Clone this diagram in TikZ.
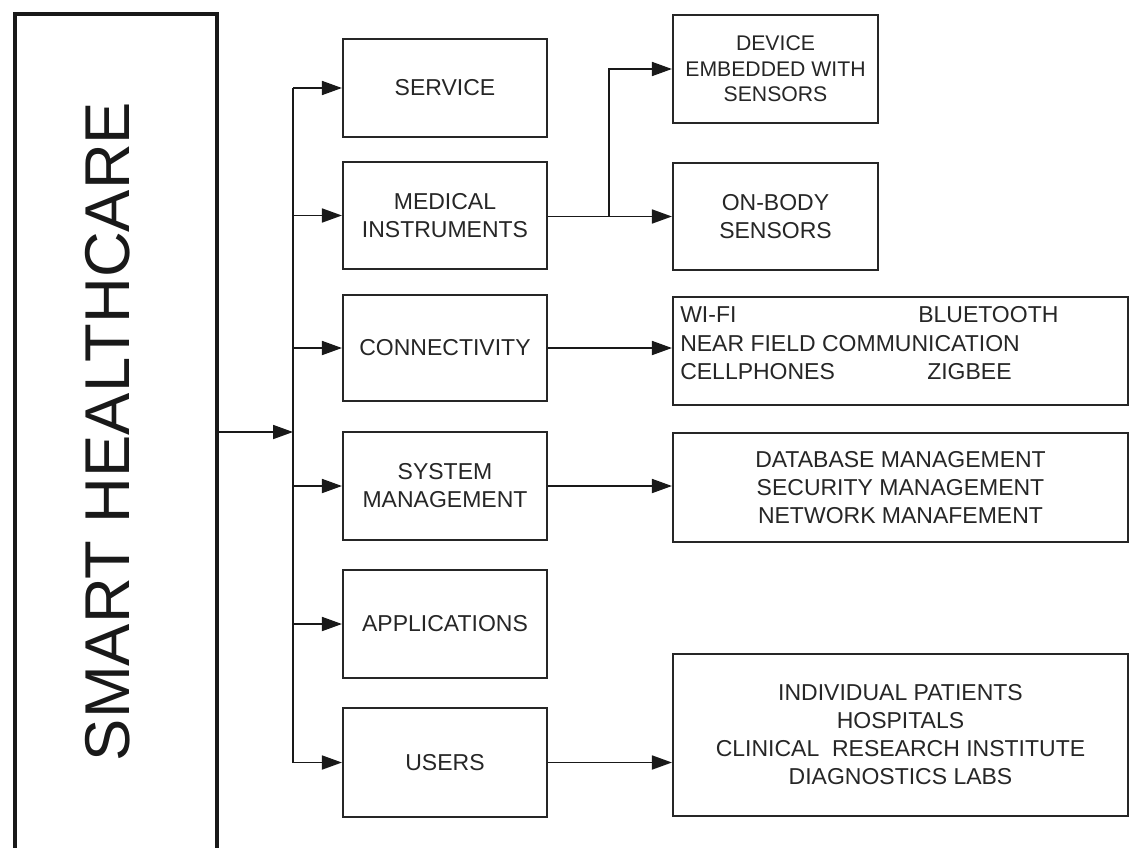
\documentclass[tikz,border=0pt]{standalone}
\usepackage{fontspec}
\newfontfamily\labfont{Liberation Sans}
\usetikzlibrary{arrows.meta}
\tikzset{
  box/.style={draw=black!85, line width=1.6pt, align=center, text=black!85,
    font={\labfont\fontsize{17.25pt}{21pt}\selectfont}, inner sep=0pt},
  midbox/.style={box, minimum width=153pt},
  sidebox/.style={box, minimum width=153.75pt},
  widebox/.style={box, minimum width=341.25pt},
  item/.style={anchor=base west, inner sep=0pt, text=black!85,
    font={\labfont\fontsize{17.25pt}{21pt}\selectfont}},
  link/.style={draw=black!90, line width=1.3pt},
  arr/.style={link, -{Triangle[length=15pt,width=10.5pt]}},
}
\begin{document}
\begin{tikzpicture}[x=0.75pt,y=-0.75pt]
\useasboundingbox (0,0) rectangle (1131,847);
\fill[white] (0,0) rectangle (1131,847);

% tall title box, running off the bottom of the page
\begin{scope}
  \clip (0,0) rectangle (1131,847);
  \node[draw=black!90, line width=2.5pt, minimum width=151.5pt, minimum height=642pt, inner sep=0pt] (hc) at (116,442) {};
\end{scope}
\node[rotate=90, inner sep=0pt, text=black!90, font={\labfont\fontsize{47.5pt}{50pt}\selectfont}] (hclabel) at (107.5,431.5) {SMART HEALTHCARE};

% middle column
\node[midbox, minimum height=73.5pt]  (service) at (445,88)    {SERVICE};
\node[midbox, minimum height=80.25pt] (medical) at (445,215.5) {MEDICAL\\INSTRUMENTS};
\node[midbox, minimum height=79.5pt]  (conn)    at (445,348)   {CONNECTIVITY};
\node[midbox, minimum height=81pt]    (sysm)    at (445,486)   {SYSTEM\\MANAGEMENT};
\node[midbox, minimum height=81pt]    (apps)    at (445,624)   {APPLICATIONS};
\node[midbox, minimum height=81.75pt] (users)   at (445,762.5) {USERS};

% right column
\node[sidebox, minimum height=81pt, font={\labfont\fontsize{15.9pt}{19pt}\selectfont}]
  (device) at (775.5,69) {DEVICE\\EMBEDDED WITH\\SENSORS};
\node[sidebox, minimum height=80.25pt] (onbody) at (775.5,216.5) {ON-BODY\\SENSORS};
\node[widebox, minimum height=81pt]    (conndet) at (900.5,351) {};
\node[item] (wifi)  at (680,322) {WI-FI};
\node[item] (bt)    at (918,322) {BLUETOOTH};
\node[item] (nfc)   at (680,351) {NEAR FIELD COMMUNICATION};
\node[item] (cell)  at (680,379) {CELLPHONES};
\node[item] (zig)   at (927,379) {ZIGBEE};
\node[widebox, minimum height=81.75pt] (sysdet) at (900.5,487.5)
  {DATABASE MANAGEMENT\\SECURITY MANAGEMENT\\NETWORK MANAFEMENT};
\node[widebox, minimum height=121.5pt] (userdet) at (900.5,735)
  {INDIVIDUAL PATIENTS\\HOSPITALS\\CLINICAL\ \ RESEARCH INSTITUTE\\DIAGNOSTICS LABS};

% trunk and branches
\coordinate (j) at (293,432);
\draw[arr] (hc.east |- j) -- (j);
\draw[link] (j |- service.west) -- (j |- users.west);
\foreach \n in {service,medical,conn,sysm,apps,users}
  \draw[arr] (j |- \n.west) -- (\n.west);

\coordinate (fork) at (609,216.5);
\draw[link] (medical.east |- fork) -- (fork);
\draw[arr] (fork) |- (device.west);
\draw[arr] (fork) -- (onbody.west);

\draw[arr] (conn.east) -- (conn.east -| conndet.west);
\draw[arr] (sysm.east) -- (sysm.east -| sysdet.west);
\draw[arr] (users.east) -- (users.east -| userdet.west);
\end{tikzpicture}
\end{document}
